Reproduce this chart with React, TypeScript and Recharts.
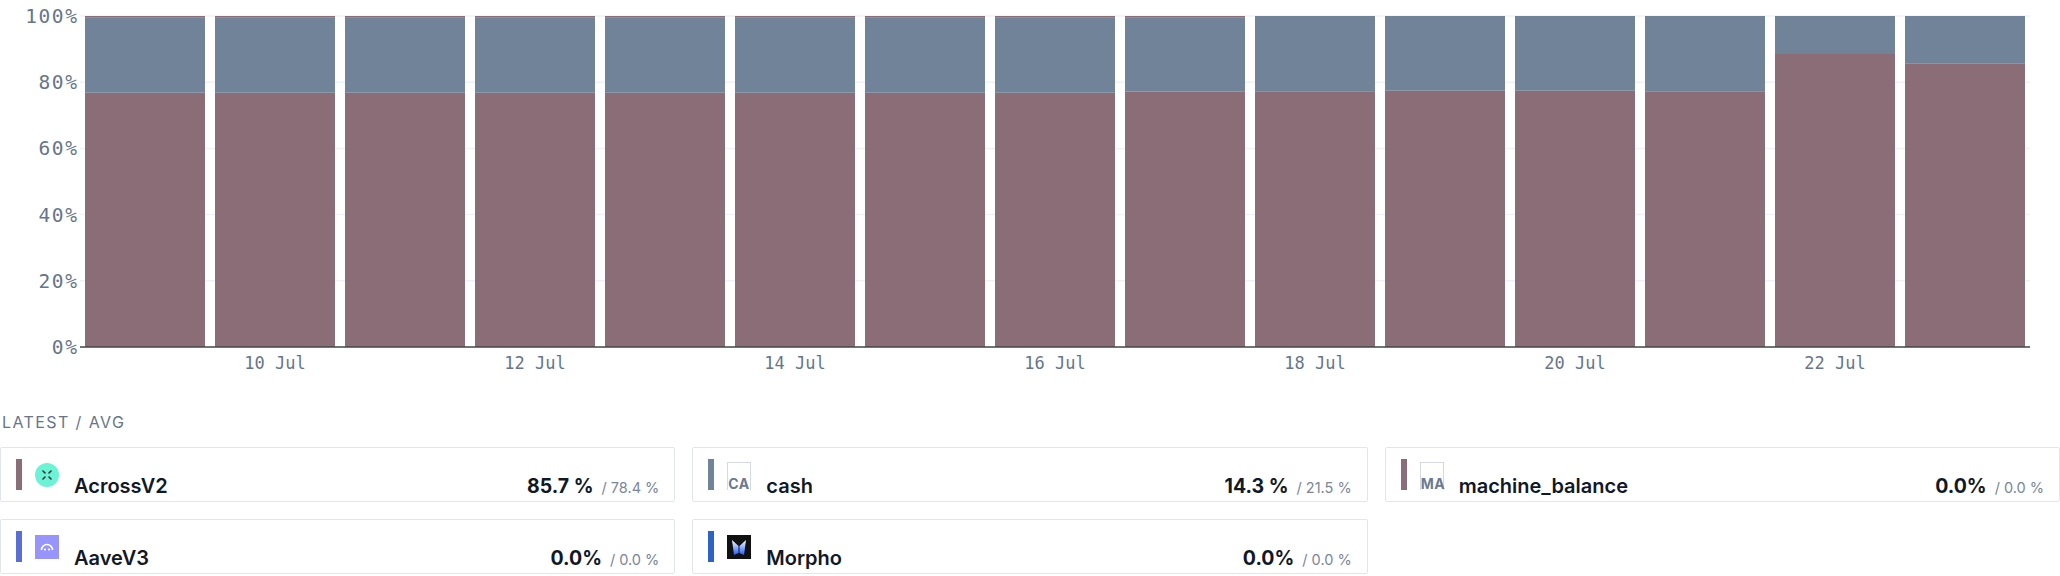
import React from 'react';
import { BarChart, Bar, XAxis, YAxis, CartesianGrid } from 'recharts';

const days = ['9 Jul', '10 Jul', '11 Jul', '12 Jul', '13 Jul', '14 Jul', '15 Jul', '16 Jul', '17 Jul', '18 Jul', '19 Jul', '20 Jul', '21 Jul', '22 Jul', '23 Jul'];
const acrossV2 = [76.8, 76.8, 76.8, 76.8, 76.8, 76.8, 76.8, 76.8, 77.1, 77.3, 77.4, 77.4, 77.3, 88.5, 85.7];
const machineBalance = [0.5, 0.5, 0.5, 0.5, 0.5, 0.5, 0.5, 0.5, 0.5, 0, 0, 0, 0, 0, 0];
const cash = [22.7, 22.7, 22.7, 22.7, 22.7, 22.7, 22.7, 22.7, 22.4, 22.7, 22.6, 22.6, 22.7, 11.5, 14.3];
const aaveV3 = [0, 0, 0, 0, 0, 0, 0, 0, 0, 0, 0, 0, 0, 0, 0];
const morpho = [0, 0, 0, 0, 0, 0, 0, 0, 0, 0, 0, 0, 0, 0, 0];
const yTicks = [0, 20, 40, 60, 80, 100];

const legendNames = ['AcrossV2', 'cash', 'machine_balance', 'AaveV3', 'Morpho'];
const legendLatest = ['85.7 %', '14.3 %', '0.0%', '0.0%', '0.0%'];
const legendAvg = ['/ 78.4 %', '/ 21.5 %', '/ 0.0 %', '/ 0.0 %', '/ 0.0 %'];
const legendColors = ['#8b6d78', '#718399', '#8b6d78', '#5a6ed4', '#2d62c6'];

const MAUVE = '#8b6d78';
const SLATE = '#718399';
const TICK = '#66758c';

const data = days.map((d, i) => ({
  day: d,
  AcrossV2: acrossV2[i],
  cash: cash[i],
  machine_balance: machineBalance[i],
  AaveV3: aaveV3[i],
  Morpho: morpho[i],
}));

const XTick = (props: any) => {
  const { x, y, payload, index } = props;
  if (index % 2 === 0) return <g />;
  const label = String(payload.value);
  return (
    <text
      x={x}
      y={y}
      dy={22}
      textAnchor="middle"
      fill={TICK}
      fontFamily="DejaVu Sans Mono"
      fontSize={17}
    >
      {label}
    </text>
  );
};

const Icon = ({ name }: { name: string }) => {
  if (name === 'AcrossV2') {
    return (
      <svg width={24} height={24} viewBox="0 0 24 24">
        <circle cx={12} cy={12} r={12} fill="#6cf3d6" />
        <g stroke="#2b2d33" strokeWidth={1.6} strokeLinecap="round">
          <line x1={8} y1={8} x2={10} y2={10} />
          <line x1={16} y1={8} x2={14} y2={10} />
          <line x1={8} y1={16} x2={10} y2={14} />
          <line x1={16} y1={16} x2={14} y2={14} />
        </g>
      </svg>
    );
  }
  if (name === 'AaveV3') {
    return (
      <svg width={24} height={24} viewBox="0 0 24 24">
        <rect x={0} y={0} width={24} height={24} fill="#9794fb" />
        <path d="M6.5 15 A5.5 5.5 0 0 1 17.5 15" fill="none" stroke="#ffffff" strokeWidth={1.6} />
        <circle cx={10} cy={14.5} r={1.1} fill="#ffffff" />
        <circle cx={14} cy={14.5} r={1.1} fill="#ffffff" />
      </svg>
    );
  }
  if (name === 'Morpho') {
    return (
      <svg width={24} height={24} viewBox="0 0 24 24">
        <defs>
          <linearGradient id="mg" x1="0" y1="0" x2="0" y2="1">
            <stop offset="0" stopColor="#ffffff" />
            <stop offset="1" stopColor="#1f5cff" />
          </linearGradient>
        </defs>
        <rect x={0} y={0} width={24} height={24} fill="#111111" />
        <path d="M5 5 L11.5 11 L11.5 18 L7 20 Z" fill="url(#mg)" />
        <path d="M19 5 L12.5 11 L12.5 18 L17 20 Z" fill="url(#mg)" />
      </svg>
    );
  }
  const abbr = name.slice(0, 2).toUpperCase();
  return (
    <div
      style={{
        width: 24,
        height: 28,
        boxSizing: 'border-box',
        border: '1px solid #d5dae2',
        borderBottom: 'none',
        position: 'relative',
      }}
    >
      <span
        style={{
          position: 'absolute',
          left: 0,
          bottom: -1,
          fontFamily: 'Inter',
          fontWeight: 700,
          fontSize: 14,
          color: '#6b7a90',
          lineHeight: '14px',
          letterSpacing: 0.5,
        }}
      >
        {abbr}
      </span>
    </div>
  );
};

const Card = ({ i }: { i: number }) => {
  const name = legendNames[i];
  const iconTop = name === 'cash' || name === 'machine_balance' ? 14 : 15;
  return (
    <div
      style={{
        position: 'relative',
        height: 55,
        boxSizing: 'border-box',
        border: '1.5px solid #e1e6ee',
        borderRadius: 2,
        background: '#ffffff',
      }}
    >
      <div style={{ position: 'absolute', left: 15, top: 11, width: 6, height: 31, background: legendColors[i] }} />
      <div style={{ position: 'absolute', left: 34, top: iconTop }}>
        <Icon name={name} />
      </div>
      <div
        style={{
          position: 'absolute',
          left: 73,
          top: 26,
          fontFamily: 'Inter',
          fontWeight: 600,
          fontSize: 20,
          lineHeight: '24px',
          color: '#111827',
        }}
      >
        {name}
      </div>
      <div
        style={{
          position: 'absolute',
          right: 15,
          top: 26,
          whiteSpace: 'nowrap',
          fontFamily: 'Inter',
          lineHeight: '24px',
        }}
      >
        <span style={{ fontWeight: 700, fontSize: 19.5, color: '#111827' }}>{legendLatest[i]}</span>
        <span style={{ fontWeight: 400, fontSize: 14.5, color: '#7a8699', marginLeft: 8 }}>{legendAvg[i]}</span>
      </div>
    </div>
  );
};

export default function App() {
  return (
    <div style={{ width: 2060, height: 576, position: 'relative', background: '#ffffff' }}>
      <style>{'body{margin:0;background:#fff;}'}</style>
      <BarChart
        width={2060}
        height={400}
        data={data}
        margin={{ top: 16, right: 30, left: 0, bottom: 13 }}
        barCategoryGap={5}
      >
        <CartesianGrid vertical={false} stroke="#eef2f7" strokeWidth={1.5} />
        <XAxis
          dataKey="day"
          interval={0}
          height={40}
          tickLine={false}
          tickSize={0}
          tickMargin={0}
          axisLine={{ stroke: '#474747', strokeWidth: 1.5 }}
          tick={<XTick />}
        />
        <YAxis
          width={80}
          domain={[0, 100]}
          ticks={yTicks}
          interval={0}
          axisLine={false}
          tickLine={false}
          tickSize={0}
          tickMargin={1.5}
          tickFormatter={(v: number) => `${v}%`}
          tick={{ fill: TICK, fontSize: 19.5, fontFamily: 'DejaVu Sans Mono', letterSpacing: 1.6 }}
        />
        <Bar dataKey="AcrossV2" stackId="a" fill={MAUVE} isAnimationActive={false} />
        <Bar dataKey="cash" stackId="a" fill={SLATE} isAnimationActive={false} />
        <Bar dataKey="machine_balance" stackId="a" fill={MAUVE} isAnimationActive={false} />
        <Bar dataKey="AaveV3" stackId="a" fill="#5a6ed4" isAnimationActive={false} />
        <Bar dataKey="Morpho" stackId="a" fill="#2d62c6" isAnimationActive={false} />
      </BarChart>
      <div
        style={{
          position: 'absolute',
          left: 2,
          top: 412,
          fontFamily: 'Inter',
          fontSize: 16,
          lineHeight: '20px',
          letterSpacing: 1.4,
          color: '#66758c',
        }}
      >
        LATEST / AVG
      </div>
      <div
        style={{
          position: 'absolute',
          left: 0,
          top: 447,
          width: 2060,
          display: 'grid',
          gridTemplateColumns: 'repeat(3, 1fr)',
          columnGap: 17,
          rowGap: 17,
        }}
      >
        {legendNames.map((_, i) => (
          <Card key={i} i={i} />
        ))}
      </div>
    </div>
  );
}
